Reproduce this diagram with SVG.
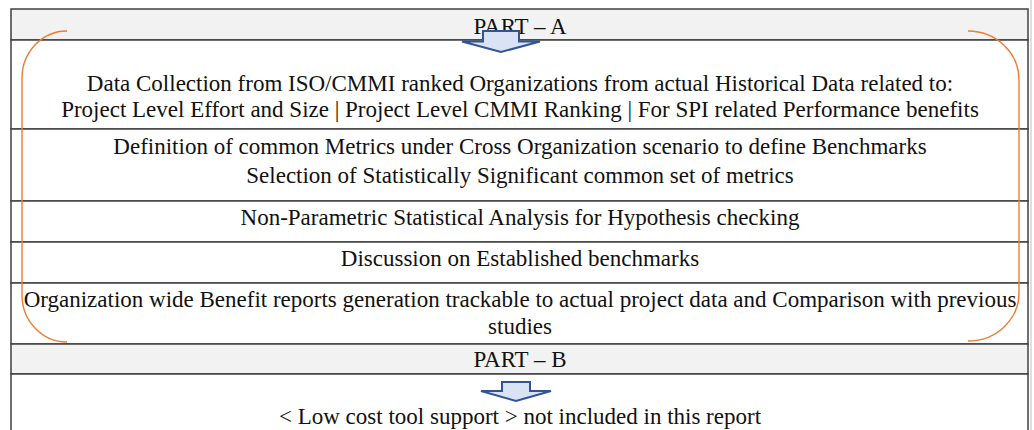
<svg xmlns="http://www.w3.org/2000/svg" width="1034" height="430" viewBox="0 0 1034 430">
<style>
text{font-family:'Liberation Serif','Times New Roman',serif;font-size:23px;fill:#111;text-anchor:middle}
.row{fill:#fff;stroke:#404040;stroke-width:1.5}
.hdr{fill:#f2f2f2;stroke:#404040;stroke-width:1.5}
.arr{fill:#dae3f3;stroke:#2f5597;stroke-width:2;stroke-linejoin:miter}
.br{fill:none;stroke:#ed7d31;stroke-width:1.4}
</style>
<rect x="0" y="0" width="1034" height="430" fill="#fff"/>
<line x1="1031" y1="0" x2="1031" y2="430" stroke="#d4d4d4" stroke-width="1.5"/>
<g id="partA">
<rect class="hdr" x="11" y="9" width="1017" height="31"/>
<text x="520" y="34">PART – A</text>
</g>
<g id="row1">
<rect class="row" x="11" y="40" width="1017" height="89"/>
<text x="520" y="91">Data Collection from ISO/CMMI ranked Organizations from actual Historical Data related to:</text>
<text x="520" y="117">Project Level Effort and Size | Project Level CMMI Ranking | For SPI related Performance benefits</text>
</g>
<g id="row2">
<rect class="row" x="11" y="129" width="1017" height="72"/>
<text x="520" y="154">Definition of common Metrics under Cross Organization scenario to define Benchmarks</text>
<text x="520" y="183">Selection of Statistically Significant common set of metrics</text>
</g>
<g id="row3">
<rect class="row" x="11" y="201" width="1017" height="41"/>
<text x="520" y="225">Non-Parametric Statistical Analysis for Hypothesis checking</text>
</g>
<g id="row4">
<rect class="row" x="11" y="242" width="1017" height="41"/>
<text x="520" y="266">Discussion on Established benchmarks</text>
</g>
<g id="row5">
<rect class="row" x="11" y="283" width="1017" height="61"/>
<text x="520" y="307">Organization wide Benefit reports generation trackable to actual project data and Comparison with previous</text>
<text x="520" y="334">studies</text>
</g>
<g id="partB">
<rect class="hdr" x="11" y="344" width="1017" height="30"/>
<text x="520" y="367">PART – B</text>
</g>
<g id="row6">
<rect class="row" x="11" y="374" width="1017" height="70"/>
<text x="520" y="424">&lt; Low cost tool support &gt; not included in this report</text>
</g>
<g id="connectors">
<path class="arr" d="M483,31 H519 V41.5 H540 L501,52 L462,41.5 H483 Z"/>
<path class="arr" d="M502,382 H530 V391 H551 L516,401 L481,391 H502 Z"/>
<path class="br" d="M67,31 A45,47 0 0 0 22,78 L22,295 A45,47 0 0 0 67,342"/>
<path class="br" d="M968,31 A51,49 0 0 1 1019,80 L1019,293 A51,48 0 0 1 968,341"/>
</g>
</svg>
